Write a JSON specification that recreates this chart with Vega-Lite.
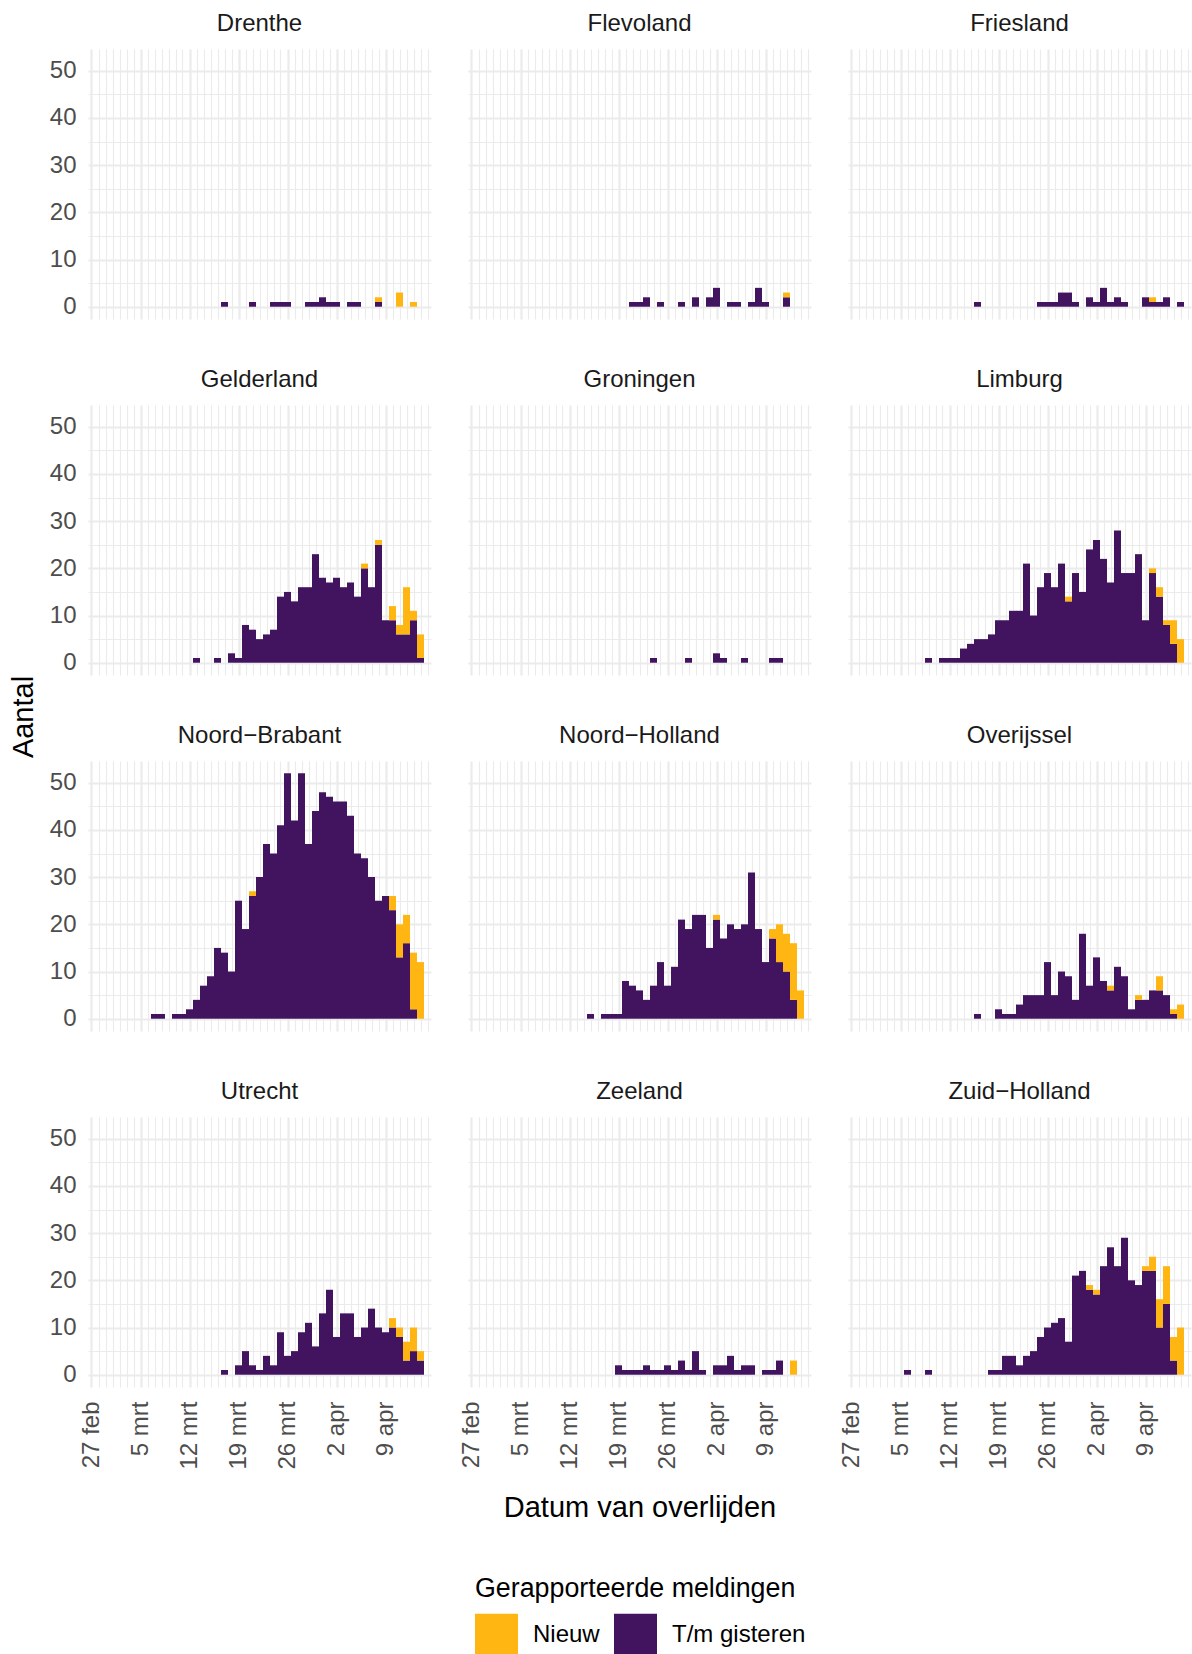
{
"$schema": "https://vega.github.io/schema/vega-lite/v6.json",
"padding": {"left": 10, "top": 12, "right": 0, "bottom": 0},
"title": {"text": "Aantal", "orient": "left", "anchor": "middle", "frame": "group", "dx": -668, "fontSize": 29, "fontWeight": "normal", "color": "#000000", "font": "Liberation Sans", "offset": 10},
"data": {"values": [
{"p":"Drenthe","d":"2020-03-17","tm_gisteren":1,"nieuw":0},
{"p":"Drenthe","d":"2020-03-21","tm_gisteren":1,"nieuw":0},
{"p":"Drenthe","d":"2020-03-24","tm_gisteren":1,"nieuw":0},
{"p":"Drenthe","d":"2020-03-25","tm_gisteren":1,"nieuw":0},
{"p":"Drenthe","d":"2020-03-26","tm_gisteren":1,"nieuw":0},
{"p":"Drenthe","d":"2020-03-29","tm_gisteren":1,"nieuw":0},
{"p":"Drenthe","d":"2020-03-30","tm_gisteren":1,"nieuw":0},
{"p":"Drenthe","d":"2020-03-31","tm_gisteren":2,"nieuw":0},
{"p":"Drenthe","d":"2020-04-01","tm_gisteren":1,"nieuw":0},
{"p":"Drenthe","d":"2020-04-02","tm_gisteren":1,"nieuw":0},
{"p":"Drenthe","d":"2020-04-04","tm_gisteren":1,"nieuw":0},
{"p":"Drenthe","d":"2020-04-05","tm_gisteren":1,"nieuw":0},
{"p":"Drenthe","d":"2020-04-08","tm_gisteren":1,"nieuw":1},
{"p":"Drenthe","d":"2020-04-11","tm_gisteren":0,"nieuw":3},
{"p":"Drenthe","d":"2020-04-13","tm_gisteren":0,"nieuw":1},
{"p":"Flevoland","d":"2020-03-21","tm_gisteren":1,"nieuw":0},
{"p":"Flevoland","d":"2020-03-22","tm_gisteren":1,"nieuw":0},
{"p":"Flevoland","d":"2020-03-23","tm_gisteren":2,"nieuw":0},
{"p":"Flevoland","d":"2020-03-25","tm_gisteren":1,"nieuw":0},
{"p":"Flevoland","d":"2020-03-28","tm_gisteren":1,"nieuw":0},
{"p":"Flevoland","d":"2020-03-30","tm_gisteren":2,"nieuw":0},
{"p":"Flevoland","d":"2020-04-01","tm_gisteren":2,"nieuw":0},
{"p":"Flevoland","d":"2020-04-02","tm_gisteren":4,"nieuw":0},
{"p":"Flevoland","d":"2020-04-04","tm_gisteren":1,"nieuw":0},
{"p":"Flevoland","d":"2020-04-05","tm_gisteren":1,"nieuw":0},
{"p":"Flevoland","d":"2020-04-07","tm_gisteren":1,"nieuw":0},
{"p":"Flevoland","d":"2020-04-08","tm_gisteren":4,"nieuw":0},
{"p":"Flevoland","d":"2020-04-09","tm_gisteren":1,"nieuw":0},
{"p":"Flevoland","d":"2020-04-12","tm_gisteren":2,"nieuw":1},
{"p":"Friesland","d":"2020-03-16","tm_gisteren":1,"nieuw":0},
{"p":"Friesland","d":"2020-03-25","tm_gisteren":1,"nieuw":0},
{"p":"Friesland","d":"2020-03-26","tm_gisteren":1,"nieuw":0},
{"p":"Friesland","d":"2020-03-27","tm_gisteren":1,"nieuw":0},
{"p":"Friesland","d":"2020-03-28","tm_gisteren":3,"nieuw":0},
{"p":"Friesland","d":"2020-03-29","tm_gisteren":3,"nieuw":0},
{"p":"Friesland","d":"2020-03-30","tm_gisteren":1,"nieuw":0},
{"p":"Friesland","d":"2020-04-01","tm_gisteren":2,"nieuw":0},
{"p":"Friesland","d":"2020-04-02","tm_gisteren":1,"nieuw":0},
{"p":"Friesland","d":"2020-04-03","tm_gisteren":4,"nieuw":0},
{"p":"Friesland","d":"2020-04-04","tm_gisteren":1,"nieuw":0},
{"p":"Friesland","d":"2020-04-05","tm_gisteren":2,"nieuw":0},
{"p":"Friesland","d":"2020-04-06","tm_gisteren":1,"nieuw":0},
{"p":"Friesland","d":"2020-04-09","tm_gisteren":2,"nieuw":0},
{"p":"Friesland","d":"2020-04-10","tm_gisteren":1,"nieuw":1},
{"p":"Friesland","d":"2020-04-11","tm_gisteren":1,"nieuw":0},
{"p":"Friesland","d":"2020-04-12","tm_gisteren":2,"nieuw":0},
{"p":"Friesland","d":"2020-04-14","tm_gisteren":1,"nieuw":0},
{"p":"Gelderland","d":"2020-03-13","tm_gisteren":1,"nieuw":0},
{"p":"Gelderland","d":"2020-03-16","tm_gisteren":1,"nieuw":0},
{"p":"Gelderland","d":"2020-03-18","tm_gisteren":2,"nieuw":0},
{"p":"Gelderland","d":"2020-03-19","tm_gisteren":1,"nieuw":0},
{"p":"Gelderland","d":"2020-03-20","tm_gisteren":8,"nieuw":0},
{"p":"Gelderland","d":"2020-03-21","tm_gisteren":7,"nieuw":0},
{"p":"Gelderland","d":"2020-03-22","tm_gisteren":5,"nieuw":0},
{"p":"Gelderland","d":"2020-03-23","tm_gisteren":6,"nieuw":0},
{"p":"Gelderland","d":"2020-03-24","tm_gisteren":7,"nieuw":0},
{"p":"Gelderland","d":"2020-03-25","tm_gisteren":14,"nieuw":0},
{"p":"Gelderland","d":"2020-03-26","tm_gisteren":15,"nieuw":0},
{"p":"Gelderland","d":"2020-03-27","tm_gisteren":13,"nieuw":0},
{"p":"Gelderland","d":"2020-03-28","tm_gisteren":16,"nieuw":0},
{"p":"Gelderland","d":"2020-03-29","tm_gisteren":16,"nieuw":0},
{"p":"Gelderland","d":"2020-03-30","tm_gisteren":23,"nieuw":0},
{"p":"Gelderland","d":"2020-03-31","tm_gisteren":18,"nieuw":0},
{"p":"Gelderland","d":"2020-04-01","tm_gisteren":17,"nieuw":0},
{"p":"Gelderland","d":"2020-04-02","tm_gisteren":18,"nieuw":0},
{"p":"Gelderland","d":"2020-04-03","tm_gisteren":16,"nieuw":0},
{"p":"Gelderland","d":"2020-04-04","tm_gisteren":17,"nieuw":0},
{"p":"Gelderland","d":"2020-04-05","tm_gisteren":14,"nieuw":0},
{"p":"Gelderland","d":"2020-04-06","tm_gisteren":20,"nieuw":1},
{"p":"Gelderland","d":"2020-04-07","tm_gisteren":16,"nieuw":0},
{"p":"Gelderland","d":"2020-04-08","tm_gisteren":25,"nieuw":1},
{"p":"Gelderland","d":"2020-04-09","tm_gisteren":9,"nieuw":0},
{"p":"Gelderland","d":"2020-04-10","tm_gisteren":9,"nieuw":3},
{"p":"Gelderland","d":"2020-04-11","tm_gisteren":6,"nieuw":2},
{"p":"Gelderland","d":"2020-04-12","tm_gisteren":6,"nieuw":10},
{"p":"Gelderland","d":"2020-04-13","tm_gisteren":9,"nieuw":2},
{"p":"Gelderland","d":"2020-04-14","tm_gisteren":1,"nieuw":5},
{"p":"Groningen","d":"2020-03-24","tm_gisteren":1,"nieuw":0},
{"p":"Groningen","d":"2020-03-29","tm_gisteren":1,"nieuw":0},
{"p":"Groningen","d":"2020-04-02","tm_gisteren":2,"nieuw":0},
{"p":"Groningen","d":"2020-04-03","tm_gisteren":1,"nieuw":0},
{"p":"Groningen","d":"2020-04-06","tm_gisteren":1,"nieuw":0},
{"p":"Groningen","d":"2020-04-10","tm_gisteren":1,"nieuw":0},
{"p":"Groningen","d":"2020-04-11","tm_gisteren":1,"nieuw":0},
{"p":"Limburg","d":"2020-03-09","tm_gisteren":1,"nieuw":0},
{"p":"Limburg","d":"2020-03-11","tm_gisteren":1,"nieuw":0},
{"p":"Limburg","d":"2020-03-12","tm_gisteren":1,"nieuw":0},
{"p":"Limburg","d":"2020-03-13","tm_gisteren":1,"nieuw":0},
{"p":"Limburg","d":"2020-03-14","tm_gisteren":3,"nieuw":0},
{"p":"Limburg","d":"2020-03-15","tm_gisteren":4,"nieuw":0},
{"p":"Limburg","d":"2020-03-16","tm_gisteren":5,"nieuw":0},
{"p":"Limburg","d":"2020-03-17","tm_gisteren":5,"nieuw":0},
{"p":"Limburg","d":"2020-03-18","tm_gisteren":6,"nieuw":0},
{"p":"Limburg","d":"2020-03-19","tm_gisteren":9,"nieuw":0},
{"p":"Limburg","d":"2020-03-20","tm_gisteren":9,"nieuw":0},
{"p":"Limburg","d":"2020-03-21","tm_gisteren":11,"nieuw":0},
{"p":"Limburg","d":"2020-03-22","tm_gisteren":11,"nieuw":0},
{"p":"Limburg","d":"2020-03-23","tm_gisteren":21,"nieuw":0},
{"p":"Limburg","d":"2020-03-24","tm_gisteren":10,"nieuw":0},
{"p":"Limburg","d":"2020-03-25","tm_gisteren":16,"nieuw":0},
{"p":"Limburg","d":"2020-03-26","tm_gisteren":19,"nieuw":0},
{"p":"Limburg","d":"2020-03-27","tm_gisteren":16,"nieuw":0},
{"p":"Limburg","d":"2020-03-28","tm_gisteren":21,"nieuw":0},
{"p":"Limburg","d":"2020-03-29","tm_gisteren":13,"nieuw":1},
{"p":"Limburg","d":"2020-03-30","tm_gisteren":19,"nieuw":0},
{"p":"Limburg","d":"2020-03-31","tm_gisteren":15,"nieuw":0},
{"p":"Limburg","d":"2020-04-01","tm_gisteren":24,"nieuw":0},
{"p":"Limburg","d":"2020-04-02","tm_gisteren":26,"nieuw":0},
{"p":"Limburg","d":"2020-04-03","tm_gisteren":22,"nieuw":0},
{"p":"Limburg","d":"2020-04-04","tm_gisteren":17,"nieuw":0},
{"p":"Limburg","d":"2020-04-05","tm_gisteren":28,"nieuw":0},
{"p":"Limburg","d":"2020-04-06","tm_gisteren":19,"nieuw":0},
{"p":"Limburg","d":"2020-04-07","tm_gisteren":19,"nieuw":0},
{"p":"Limburg","d":"2020-04-08","tm_gisteren":23,"nieuw":0},
{"p":"Limburg","d":"2020-04-09","tm_gisteren":9,"nieuw":0},
{"p":"Limburg","d":"2020-04-10","tm_gisteren":19,"nieuw":1},
{"p":"Limburg","d":"2020-04-11","tm_gisteren":14,"nieuw":2},
{"p":"Limburg","d":"2020-04-12","tm_gisteren":8,"nieuw":1},
{"p":"Limburg","d":"2020-04-13","tm_gisteren":4,"nieuw":5},
{"p":"Limburg","d":"2020-04-14","tm_gisteren":0,"nieuw":5},
{"p":"Noord−Brabant","d":"2020-03-07","tm_gisteren":1,"nieuw":0},
{"p":"Noord−Brabant","d":"2020-03-08","tm_gisteren":1,"nieuw":0},
{"p":"Noord−Brabant","d":"2020-03-10","tm_gisteren":1,"nieuw":0},
{"p":"Noord−Brabant","d":"2020-03-11","tm_gisteren":1,"nieuw":0},
{"p":"Noord−Brabant","d":"2020-03-12","tm_gisteren":2,"nieuw":0},
{"p":"Noord−Brabant","d":"2020-03-13","tm_gisteren":4,"nieuw":0},
{"p":"Noord−Brabant","d":"2020-03-14","tm_gisteren":7,"nieuw":0},
{"p":"Noord−Brabant","d":"2020-03-15","tm_gisteren":9,"nieuw":0},
{"p":"Noord−Brabant","d":"2020-03-16","tm_gisteren":15,"nieuw":0},
{"p":"Noord−Brabant","d":"2020-03-17","tm_gisteren":14,"nieuw":0},
{"p":"Noord−Brabant","d":"2020-03-18","tm_gisteren":10,"nieuw":0},
{"p":"Noord−Brabant","d":"2020-03-19","tm_gisteren":25,"nieuw":0},
{"p":"Noord−Brabant","d":"2020-03-20","tm_gisteren":19,"nieuw":0},
{"p":"Noord−Brabant","d":"2020-03-21","tm_gisteren":26,"nieuw":1},
{"p":"Noord−Brabant","d":"2020-03-22","tm_gisteren":30,"nieuw":0},
{"p":"Noord−Brabant","d":"2020-03-23","tm_gisteren":37,"nieuw":0},
{"p":"Noord−Brabant","d":"2020-03-24","tm_gisteren":35,"nieuw":0},
{"p":"Noord−Brabant","d":"2020-03-25","tm_gisteren":41,"nieuw":0},
{"p":"Noord−Brabant","d":"2020-03-26","tm_gisteren":52,"nieuw":0},
{"p":"Noord−Brabant","d":"2020-03-27","tm_gisteren":42,"nieuw":0},
{"p":"Noord−Brabant","d":"2020-03-28","tm_gisteren":52,"nieuw":0},
{"p":"Noord−Brabant","d":"2020-03-29","tm_gisteren":37,"nieuw":0},
{"p":"Noord−Brabant","d":"2020-03-30","tm_gisteren":44,"nieuw":0},
{"p":"Noord−Brabant","d":"2020-03-31","tm_gisteren":48,"nieuw":0},
{"p":"Noord−Brabant","d":"2020-04-01","tm_gisteren":47,"nieuw":0},
{"p":"Noord−Brabant","d":"2020-04-02","tm_gisteren":46,"nieuw":0},
{"p":"Noord−Brabant","d":"2020-04-03","tm_gisteren":46,"nieuw":0},
{"p":"Noord−Brabant","d":"2020-04-04","tm_gisteren":43,"nieuw":0},
{"p":"Noord−Brabant","d":"2020-04-05","tm_gisteren":35,"nieuw":0},
{"p":"Noord−Brabant","d":"2020-04-06","tm_gisteren":34,"nieuw":0},
{"p":"Noord−Brabant","d":"2020-04-07","tm_gisteren":30,"nieuw":0},
{"p":"Noord−Brabant","d":"2020-04-08","tm_gisteren":25,"nieuw":0},
{"p":"Noord−Brabant","d":"2020-04-09","tm_gisteren":26,"nieuw":0},
{"p":"Noord−Brabant","d":"2020-04-10","tm_gisteren":23,"nieuw":3},
{"p":"Noord−Brabant","d":"2020-04-11","tm_gisteren":13,"nieuw":7},
{"p":"Noord−Brabant","d":"2020-04-12","tm_gisteren":16,"nieuw":6},
{"p":"Noord−Brabant","d":"2020-04-13","tm_gisteren":2,"nieuw":12},
{"p":"Noord−Brabant","d":"2020-04-14","tm_gisteren":0,"nieuw":12},
{"p":"Noord−Holland","d":"2020-03-15","tm_gisteren":1,"nieuw":0},
{"p":"Noord−Holland","d":"2020-03-17","tm_gisteren":1,"nieuw":0},
{"p":"Noord−Holland","d":"2020-03-18","tm_gisteren":1,"nieuw":0},
{"p":"Noord−Holland","d":"2020-03-19","tm_gisteren":1,"nieuw":0},
{"p":"Noord−Holland","d":"2020-03-20","tm_gisteren":8,"nieuw":0},
{"p":"Noord−Holland","d":"2020-03-21","tm_gisteren":7,"nieuw":0},
{"p":"Noord−Holland","d":"2020-03-22","tm_gisteren":6,"nieuw":0},
{"p":"Noord−Holland","d":"2020-03-23","tm_gisteren":4,"nieuw":0},
{"p":"Noord−Holland","d":"2020-03-24","tm_gisteren":7,"nieuw":0},
{"p":"Noord−Holland","d":"2020-03-25","tm_gisteren":12,"nieuw":0},
{"p":"Noord−Holland","d":"2020-03-26","tm_gisteren":7,"nieuw":0},
{"p":"Noord−Holland","d":"2020-03-27","tm_gisteren":11,"nieuw":0},
{"p":"Noord−Holland","d":"2020-03-28","tm_gisteren":21,"nieuw":0},
{"p":"Noord−Holland","d":"2020-03-29","tm_gisteren":19,"nieuw":0},
{"p":"Noord−Holland","d":"2020-03-30","tm_gisteren":22,"nieuw":0},
{"p":"Noord−Holland","d":"2020-03-31","tm_gisteren":22,"nieuw":0},
{"p":"Noord−Holland","d":"2020-04-01","tm_gisteren":15,"nieuw":0},
{"p":"Noord−Holland","d":"2020-04-02","tm_gisteren":21,"nieuw":1},
{"p":"Noord−Holland","d":"2020-04-03","tm_gisteren":17,"nieuw":0},
{"p":"Noord−Holland","d":"2020-04-04","tm_gisteren":20,"nieuw":0},
{"p":"Noord−Holland","d":"2020-04-05","tm_gisteren":19,"nieuw":0},
{"p":"Noord−Holland","d":"2020-04-06","tm_gisteren":20,"nieuw":0},
{"p":"Noord−Holland","d":"2020-04-07","tm_gisteren":31,"nieuw":0},
{"p":"Noord−Holland","d":"2020-04-08","tm_gisteren":19,"nieuw":0},
{"p":"Noord−Holland","d":"2020-04-09","tm_gisteren":12,"nieuw":0},
{"p":"Noord−Holland","d":"2020-04-10","tm_gisteren":17,"nieuw":2},
{"p":"Noord−Holland","d":"2020-04-11","tm_gisteren":12,"nieuw":8},
{"p":"Noord−Holland","d":"2020-04-12","tm_gisteren":10,"nieuw":8},
{"p":"Noord−Holland","d":"2020-04-13","tm_gisteren":4,"nieuw":12},
{"p":"Noord−Holland","d":"2020-04-14","tm_gisteren":0,"nieuw":6},
{"p":"Overijssel","d":"2020-03-16","tm_gisteren":1,"nieuw":0},
{"p":"Overijssel","d":"2020-03-19","tm_gisteren":2,"nieuw":0},
{"p":"Overijssel","d":"2020-03-20","tm_gisteren":1,"nieuw":0},
{"p":"Overijssel","d":"2020-03-21","tm_gisteren":1,"nieuw":0},
{"p":"Overijssel","d":"2020-03-22","tm_gisteren":3,"nieuw":0},
{"p":"Overijssel","d":"2020-03-23","tm_gisteren":5,"nieuw":0},
{"p":"Overijssel","d":"2020-03-24","tm_gisteren":5,"nieuw":0},
{"p":"Overijssel","d":"2020-03-25","tm_gisteren":5,"nieuw":0},
{"p":"Overijssel","d":"2020-03-26","tm_gisteren":12,"nieuw":0},
{"p":"Overijssel","d":"2020-03-27","tm_gisteren":5,"nieuw":0},
{"p":"Overijssel","d":"2020-03-28","tm_gisteren":10,"nieuw":0},
{"p":"Overijssel","d":"2020-03-29","tm_gisteren":9,"nieuw":0},
{"p":"Overijssel","d":"2020-03-30","tm_gisteren":4,"nieuw":0},
{"p":"Overijssel","d":"2020-03-31","tm_gisteren":18,"nieuw":0},
{"p":"Overijssel","d":"2020-04-01","tm_gisteren":7,"nieuw":0},
{"p":"Overijssel","d":"2020-04-02","tm_gisteren":13,"nieuw":0},
{"p":"Overijssel","d":"2020-04-03","tm_gisteren":8,"nieuw":0},
{"p":"Overijssel","d":"2020-04-04","tm_gisteren":6,"nieuw":1},
{"p":"Overijssel","d":"2020-04-05","tm_gisteren":11,"nieuw":0},
{"p":"Overijssel","d":"2020-04-06","tm_gisteren":9,"nieuw":0},
{"p":"Overijssel","d":"2020-04-07","tm_gisteren":2,"nieuw":0},
{"p":"Overijssel","d":"2020-04-08","tm_gisteren":4,"nieuw":1},
{"p":"Overijssel","d":"2020-04-09","tm_gisteren":4,"nieuw":0},
{"p":"Overijssel","d":"2020-04-10","tm_gisteren":6,"nieuw":0},
{"p":"Overijssel","d":"2020-04-11","tm_gisteren":6,"nieuw":3},
{"p":"Overijssel","d":"2020-04-12","tm_gisteren":5,"nieuw":0},
{"p":"Overijssel","d":"2020-04-13","tm_gisteren":1,"nieuw":1},
{"p":"Overijssel","d":"2020-04-14","tm_gisteren":0,"nieuw":3},
{"p":"Utrecht","d":"2020-03-17","tm_gisteren":1,"nieuw":0},
{"p":"Utrecht","d":"2020-03-19","tm_gisteren":2,"nieuw":0},
{"p":"Utrecht","d":"2020-03-20","tm_gisteren":5,"nieuw":0},
{"p":"Utrecht","d":"2020-03-21","tm_gisteren":2,"nieuw":0},
{"p":"Utrecht","d":"2020-03-22","tm_gisteren":1,"nieuw":0},
{"p":"Utrecht","d":"2020-03-23","tm_gisteren":4,"nieuw":0},
{"p":"Utrecht","d":"2020-03-24","tm_gisteren":2,"nieuw":0},
{"p":"Utrecht","d":"2020-03-25","tm_gisteren":9,"nieuw":0},
{"p":"Utrecht","d":"2020-03-26","tm_gisteren":4,"nieuw":0},
{"p":"Utrecht","d":"2020-03-27","tm_gisteren":5,"nieuw":0},
{"p":"Utrecht","d":"2020-03-28","tm_gisteren":9,"nieuw":0},
{"p":"Utrecht","d":"2020-03-29","tm_gisteren":11,"nieuw":0},
{"p":"Utrecht","d":"2020-03-30","tm_gisteren":6,"nieuw":0},
{"p":"Utrecht","d":"2020-03-31","tm_gisteren":13,"nieuw":0},
{"p":"Utrecht","d":"2020-04-01","tm_gisteren":18,"nieuw":0},
{"p":"Utrecht","d":"2020-04-02","tm_gisteren":8,"nieuw":0},
{"p":"Utrecht","d":"2020-04-03","tm_gisteren":13,"nieuw":0},
{"p":"Utrecht","d":"2020-04-04","tm_gisteren":13,"nieuw":0},
{"p":"Utrecht","d":"2020-04-05","tm_gisteren":8,"nieuw":0},
{"p":"Utrecht","d":"2020-04-06","tm_gisteren":10,"nieuw":0},
{"p":"Utrecht","d":"2020-04-07","tm_gisteren":14,"nieuw":0},
{"p":"Utrecht","d":"2020-04-08","tm_gisteren":10,"nieuw":0},
{"p":"Utrecht","d":"2020-04-09","tm_gisteren":9,"nieuw":0},
{"p":"Utrecht","d":"2020-04-10","tm_gisteren":10,"nieuw":2},
{"p":"Utrecht","d":"2020-04-11","tm_gisteren":8,"nieuw":2},
{"p":"Utrecht","d":"2020-04-12","tm_gisteren":3,"nieuw":4},
{"p":"Utrecht","d":"2020-04-13","tm_gisteren":5,"nieuw":5},
{"p":"Utrecht","d":"2020-04-14","tm_gisteren":3,"nieuw":2},
{"p":"Zeeland","d":"2020-03-19","tm_gisteren":2,"nieuw":0},
{"p":"Zeeland","d":"2020-03-20","tm_gisteren":1,"nieuw":0},
{"p":"Zeeland","d":"2020-03-21","tm_gisteren":1,"nieuw":0},
{"p":"Zeeland","d":"2020-03-22","tm_gisteren":1,"nieuw":0},
{"p":"Zeeland","d":"2020-03-23","tm_gisteren":2,"nieuw":0},
{"p":"Zeeland","d":"2020-03-24","tm_gisteren":1,"nieuw":0},
{"p":"Zeeland","d":"2020-03-25","tm_gisteren":1,"nieuw":0},
{"p":"Zeeland","d":"2020-03-26","tm_gisteren":2,"nieuw":0},
{"p":"Zeeland","d":"2020-03-27","tm_gisteren":1,"nieuw":0},
{"p":"Zeeland","d":"2020-03-28","tm_gisteren":3,"nieuw":0},
{"p":"Zeeland","d":"2020-03-29","tm_gisteren":1,"nieuw":0},
{"p":"Zeeland","d":"2020-03-30","tm_gisteren":5,"nieuw":0},
{"p":"Zeeland","d":"2020-03-31","tm_gisteren":1,"nieuw":0},
{"p":"Zeeland","d":"2020-04-02","tm_gisteren":2,"nieuw":0},
{"p":"Zeeland","d":"2020-04-03","tm_gisteren":2,"nieuw":0},
{"p":"Zeeland","d":"2020-04-04","tm_gisteren":4,"nieuw":0},
{"p":"Zeeland","d":"2020-04-05","tm_gisteren":1,"nieuw":0},
{"p":"Zeeland","d":"2020-04-06","tm_gisteren":2,"nieuw":0},
{"p":"Zeeland","d":"2020-04-07","tm_gisteren":2,"nieuw":0},
{"p":"Zeeland","d":"2020-04-09","tm_gisteren":1,"nieuw":0},
{"p":"Zeeland","d":"2020-04-10","tm_gisteren":1,"nieuw":0},
{"p":"Zeeland","d":"2020-04-11","tm_gisteren":3,"nieuw":0},
{"p":"Zeeland","d":"2020-04-13","tm_gisteren":0,"nieuw":3},
{"p":"Zuid−Holland","d":"2020-03-06","tm_gisteren":1,"nieuw":0},
{"p":"Zuid−Holland","d":"2020-03-09","tm_gisteren":1,"nieuw":0},
{"p":"Zuid−Holland","d":"2020-03-18","tm_gisteren":1,"nieuw":0},
{"p":"Zuid−Holland","d":"2020-03-19","tm_gisteren":1,"nieuw":0},
{"p":"Zuid−Holland","d":"2020-03-20","tm_gisteren":4,"nieuw":0},
{"p":"Zuid−Holland","d":"2020-03-21","tm_gisteren":4,"nieuw":0},
{"p":"Zuid−Holland","d":"2020-03-22","tm_gisteren":2,"nieuw":0},
{"p":"Zuid−Holland","d":"2020-03-23","tm_gisteren":4,"nieuw":0},
{"p":"Zuid−Holland","d":"2020-03-24","tm_gisteren":5,"nieuw":0},
{"p":"Zuid−Holland","d":"2020-03-25","tm_gisteren":8,"nieuw":0},
{"p":"Zuid−Holland","d":"2020-03-26","tm_gisteren":10,"nieuw":0},
{"p":"Zuid−Holland","d":"2020-03-27","tm_gisteren":11,"nieuw":0},
{"p":"Zuid−Holland","d":"2020-03-28","tm_gisteren":12,"nieuw":0},
{"p":"Zuid−Holland","d":"2020-03-29","tm_gisteren":7,"nieuw":0},
{"p":"Zuid−Holland","d":"2020-03-30","tm_gisteren":21,"nieuw":0},
{"p":"Zuid−Holland","d":"2020-03-31","tm_gisteren":22,"nieuw":0},
{"p":"Zuid−Holland","d":"2020-04-01","tm_gisteren":18,"nieuw":1},
{"p":"Zuid−Holland","d":"2020-04-02","tm_gisteren":17,"nieuw":1},
{"p":"Zuid−Holland","d":"2020-04-03","tm_gisteren":23,"nieuw":0},
{"p":"Zuid−Holland","d":"2020-04-04","tm_gisteren":27,"nieuw":0},
{"p":"Zuid−Holland","d":"2020-04-05","tm_gisteren":23,"nieuw":0},
{"p":"Zuid−Holland","d":"2020-04-06","tm_gisteren":29,"nieuw":0},
{"p":"Zuid−Holland","d":"2020-04-07","tm_gisteren":20,"nieuw":0},
{"p":"Zuid−Holland","d":"2020-04-08","tm_gisteren":19,"nieuw":0},
{"p":"Zuid−Holland","d":"2020-04-09","tm_gisteren":22,"nieuw":1},
{"p":"Zuid−Holland","d":"2020-04-10","tm_gisteren":22,"nieuw":3},
{"p":"Zuid−Holland","d":"2020-04-11","tm_gisteren":10,"nieuw":6},
{"p":"Zuid−Holland","d":"2020-04-12","tm_gisteren":15,"nieuw":8},
{"p":"Zuid−Holland","d":"2020-04-13","tm_gisteren":3,"nieuw":5},
{"p":"Zuid−Holland","d":"2020-04-14","tm_gisteren":0,"nieuw":10}
]},
"transform": [{"fold": ["tm_gisteren", "nieuw"], "as": ["melding", "aantal"]}],
"facet": {"field": "p", "type": "nominal",
  "header": {"title": "Datum van overlijden", "titleOrient": "bottom", "titleFontSize": 29, "titleFontWeight": "normal", "titleColor": "#000000", "titleFont": "Liberation Sans", "titlePadding": 24,
             "labelOrient": "top", "labelFontSize": 24, "labelColor": "#1A1A1A", "labelFont": "Liberation Sans", "labelPadding": 13}},
"columns": 3,
"spacing": {"column": 37, "row": 49},
"spec": {
  "width": 343,
  "height": 270,
  "mark": {"type": "bar", "width": 7},
  "encoding": {
    "x": {"field": "d", "type": "temporal",
      "scale": {"type": "utc", "nice": false, "padding": 0, "domain": [{"year": 2020, "month": 2, "date": 26, "hours": 12, "utc": true}, {"year": 2020, "month": 4, "date": 15, "hours": 12, "utc": true}]},
      "axis": {"title": null, "tickCount": {"interval": "day", "step": 1}, "labelAngle": 270, "labelPadding": 14, "labelFontSize": 24, "labelOverlap": false, "labelFlush": false, "labelBound": false,
        "labelExpr": "(datum.value - utc(2020,1,27)) % 604800000 == 0 ? utcdate(datum.value) + ' ' + ['jan','feb','mrt','apr','mei'][utcmonth(datum.value)] : ''",
        "gridWidth": {"condition": {"test": "(datum.value - utc(2020,1,27)) % 604800000 == 0", "value": 2.2}, "value": 1.1}}},
    "y": {"field": "aantal", "type": "quantitative", "stack": "zero",
      "scale": {"domain": [-2.6, 54.6], "nice": false, "zero": false},
      "axis": {"title": null, "values": [0, 5, 10, 15, 20, 25, 30, 35, 40, 45, 50], "labelPadding": 12, "labelFontSize": 24,
        "labelExpr": "datum.value % 10 == 0 ? datum.label : ''",
        "gridWidth": {"condition": {"test": "datum.value % 10 == 0", "value": 2.2}, "value": 1.1}}},
    "color": {"field": "melding", "type": "nominal",
      "scale": {"domain": ["nieuw", "tm_gisteren"], "range": ["#FFB612", "#42145F"]},
      "legend": {"title": "Gerapporteerde meldingen", "orient": "none", "legendX": 387, "legendY": 1527, "direction": "horizontal", "titleOrient": "top", "titleAnchor": "start", "titleLimit": 1000,
        "labelExpr": "datum.label == 'nieuw' ? 'Nieuw' : 'T/m gisteren'", "symbolType": "square", "symbolSize": 1849, "symbolStrokeWidth": 0, "symbolOpacity": 1,
        "titleFontSize": 26.8, "titleFontWeight": "normal", "titleColor": "#000000", "titlePadding": 11,
        "labelFontSize": 24, "labelColor": "#000000", "labelOffset": 15, "columnPadding": 14, "labelLimit": 400}},
    "order": {"field": "melding", "sort": "descending"}
  }
},
"config": {
  "font": "Liberation Sans",
  "view": {"stroke": null},
  "axis": {"domain": false, "ticks": false, "gridColor": "#EBEBEB", "labelColor": "#4D4D4D", "labelFontSize": 24, "labelFont": "Liberation Sans"},
  "legend": {"labelFont": "Liberation Sans", "titleFont": "Liberation Sans"}
}
}
